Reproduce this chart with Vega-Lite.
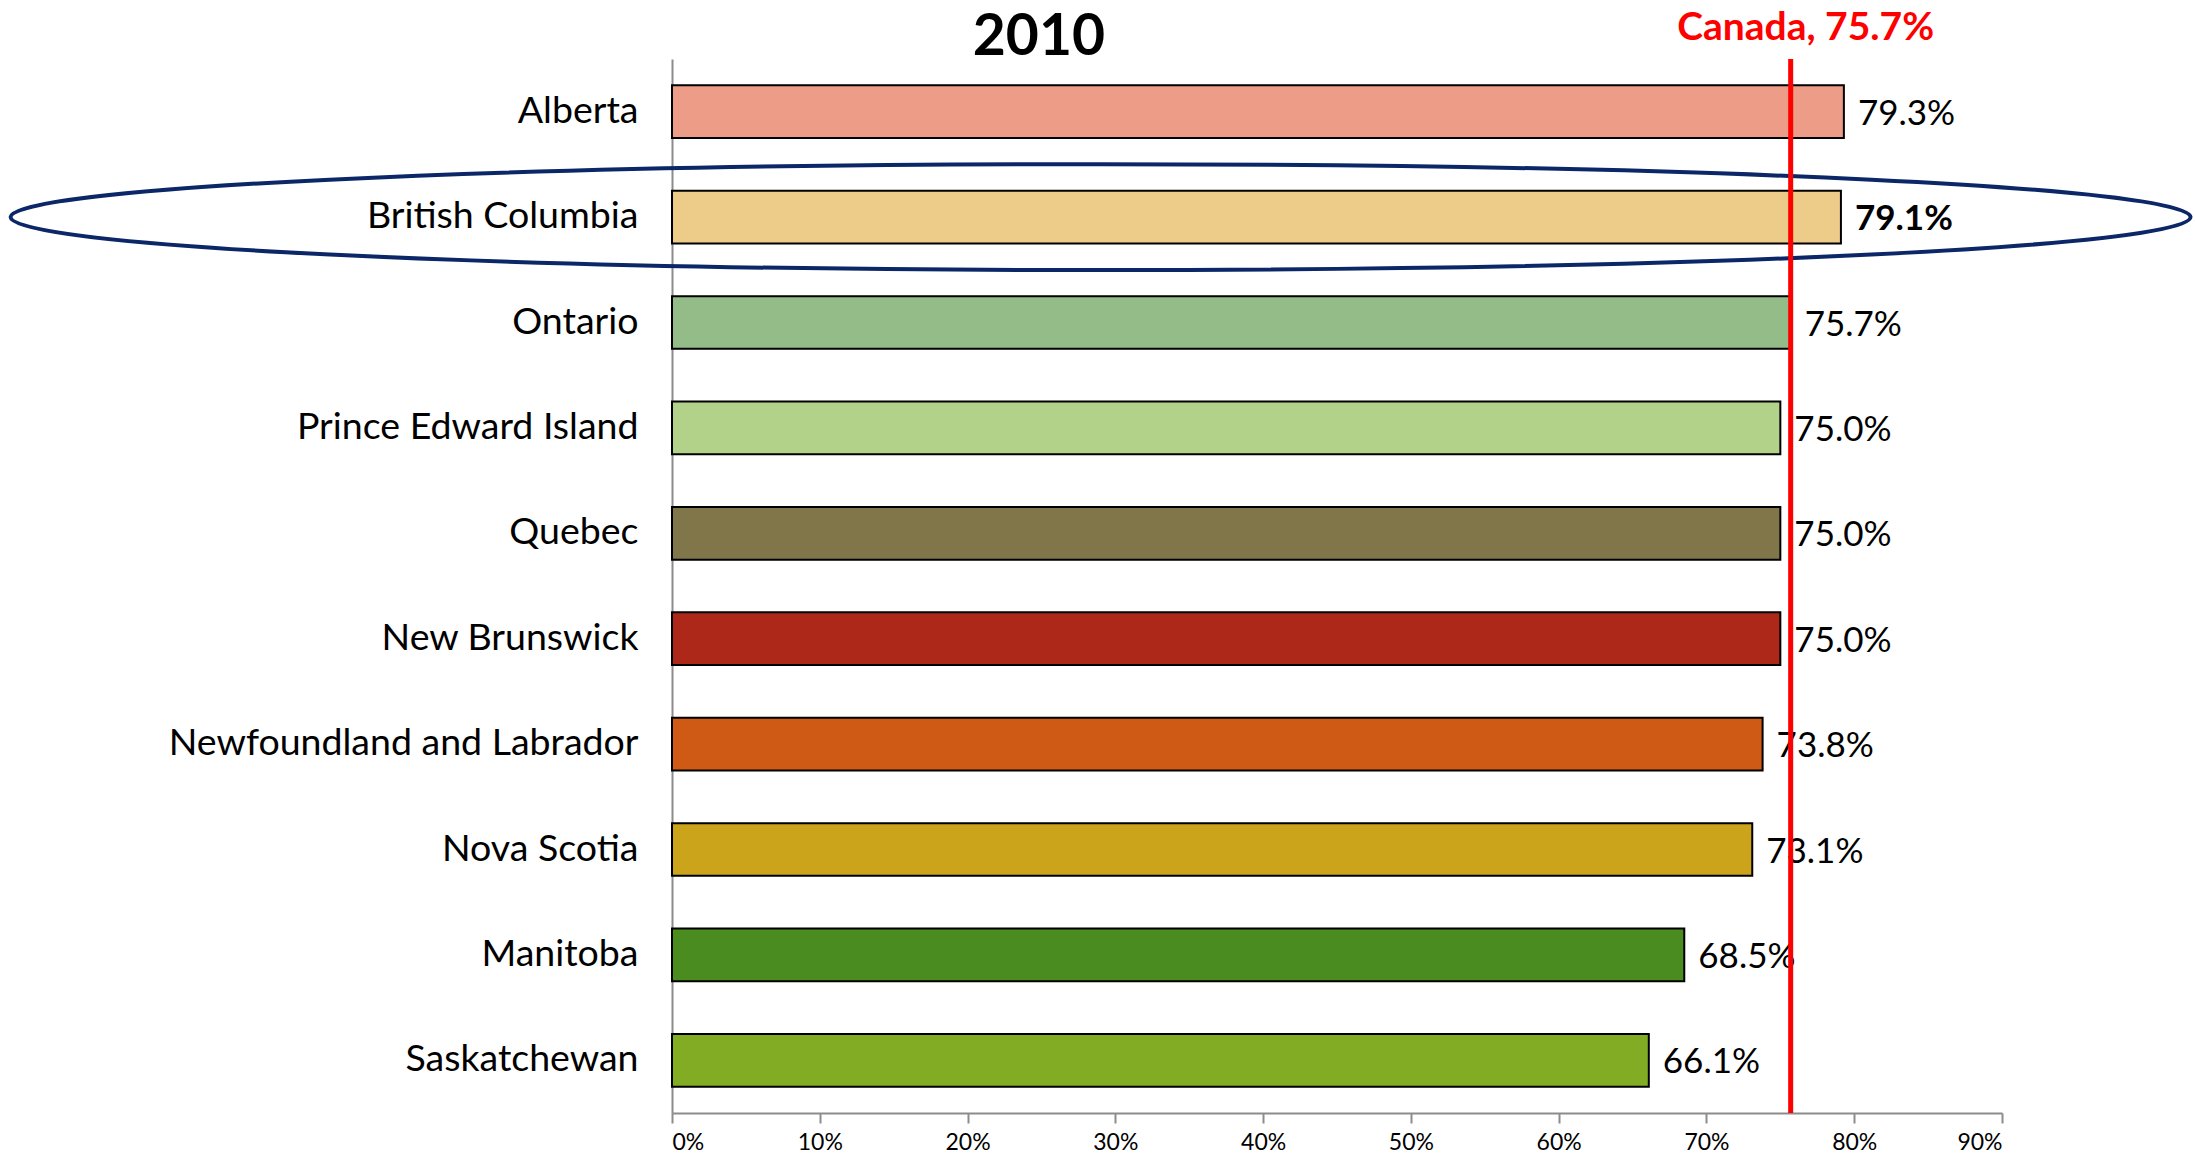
{
  "$schema": "https://vega.github.io/schema/vega-lite/v6.json",
  "autosize": {"type": "none"},
  "width": 1330,
  "height": 1054,
  "padding": {"left": 672, "top": 59, "right": 193, "bottom": 49},
  "background": "white",
  "config": {"view": {"stroke": null}, "font": "Lato"},
  "datasets": {
    "provinces": [
      {"province": "Alberta", "value": 0.793},
      {"province": "British Columbia", "value": 0.791},
      {"province": "Ontario", "value": 0.757},
      {"province": "Prince Edward Island", "value": 0.750},
      {"province": "Quebec", "value": 0.750},
      {"province": "New Brunswick", "value": 0.750},
      {"province": "Newfoundland and Labrador", "value": 0.738},
      {"province": "Nova Scotia", "value": 0.731},
      {"province": "Manitoba", "value": 0.685},
      {"province": "Saskatchewan", "value": 0.661}
    ],
    "canada": [{"label": "Canada, 75.7%", "value": 0.757}],
    "titles": [{"label": "2010", "value": 0.2483}],
    "highlight": [{"province": "British Columbia", "center": 0.29}]
  },
  "layer": [
    {
      "data": {"name": "provinces"},
      "mark": {"type": "bar", "stroke": "black", "strokeWidth": 2},
      "encoding": {
        "y": {
          "field": "province", "type": "nominal", "sort": null,
          "scale": {"paddingInner": 0.5, "paddingOuter": 0.25},
          "axis": {"title": null, "ticks": false, "domainColor": "#8c8c8c", "domainWidth": 2, "labelFontSize": 37.5, "labelFont": "Lato", "labelColor": "black", "labelPadding": 34, "labelLimit": 700}
        },
        "x": {
          "field": "value", "type": "quantitative",
          "scale": {"domain": [0, 0.9], "nice": false},
          "axis": {"title": null, "format": ".0%", "values": [0, 0.1, 0.2, 0.3, 0.4, 0.5, 0.6, 0.7, 0.8, 0.9], "grid": false, "domainColor": "#8c8c8c", "domainWidth": 2, "tickColor": "#8c8c8c", "tickWidth": 2, "tickSize": 10, "labelFontSize": 23, "labelFont": "Lato", "labelColor": "black", "labelPadding": 8}
        },
        "color": {
          "field": "province", "type": "nominal", "legend": null,
          "scale": {
            "domain": ["Alberta", "British Columbia", "Ontario", "Prince Edward Island", "Quebec", "New Brunswick", "Newfoundland and Labrador", "Nova Scotia", "Manitoba", "Saskatchewan"],
            "range": ["#EC9C87", "#EDCC8A", "#94BC88", "#B2D28A", "#80764A", "#AE281A", "#CF5A16", "#CCA41C", "#4A8C1F", "#81AC24"]
          }
        }
      }
    },
    {
      "data": {"name": "provinces"},
      "transform": [{"filter": "datum.province !== 'British Columbia'"}],
      "mark": {"type": "text", "align": "left", "baseline": "middle", "dx": 14, "dy": 2, "fontSize": 35, "font": "Lato", "color": "black"},
      "encoding": {
        "y": {"field": "province", "type": "nominal", "sort": null},
        "x": {"field": "value", "type": "quantitative"},
        "text": {"field": "value", "type": "quantitative", "format": ".1%"}
      }
    },
    {
      "data": {"name": "provinces"},
      "transform": [{"filter": "datum.province === 'British Columbia'"}],
      "mark": {"type": "text", "align": "left", "baseline": "middle", "dx": 14, "dy": 2, "fontSize": 35, "fontWeight": "bold", "font": "Lato", "color": "black"},
      "encoding": {
        "y": {"field": "province", "type": "nominal", "sort": null},
        "x": {"field": "value", "type": "quantitative"},
        "text": {"field": "value", "type": "quantitative", "format": ".1%"}
      }
    },
    {
      "data": {"name": "highlight"},
      "mark": {
        "type": "point", "filled": false, "stroke": "#0B2768", "strokeWidth": 4, "opacity": 1,
        "shape": "M -1 0 C -1 -0.0268 -0.5523 -0.0486 0 -0.0486 C 0.5523 -0.0486 1 -0.0268 1 0 C 1 0.0268 0.5523 0.0486 0 0.0486 C -0.5523 0.0486 -1 0.0268 -1 0 Z",
        "size": 4752400
      },
      "encoding": {
        "y": {"field": "province", "type": "nominal", "sort": null},
        "x": {"field": "center", "type": "quantitative"}
      }
    },
    {
      "data": {"name": "canada"},
      "mark": {"type": "rule", "color": "#FF0000", "strokeWidth": 5},
      "encoding": {
        "x": {"field": "value", "type": "quantitative"}
      }
    },
    {
      "data": {"name": "canada"},
      "mark": {"type": "text", "align": "center", "baseline": "alphabetic", "dx": 15, "dy": -19, "fontSize": 39, "fontWeight": "bold", "font": "Lato", "color": "#FF0000"},
      "encoding": {
        "x": {"field": "value", "type": "quantitative"},
        "y": {"value": 0},
        "text": {"field": "label"}
      }
    },
    {
      "data": {"name": "titles"},
      "mark": {"type": "text", "align": "center", "baseline": "alphabetic", "dy": -4, "fontSize": 57, "fontWeight": "bold", "font": "Lato", "color": "black"},
      "encoding": {
        "x": {"field": "value", "type": "quantitative"},
        "y": {"value": 0},
        "text": {"field": "label"}
      }
    }
  ]
}
